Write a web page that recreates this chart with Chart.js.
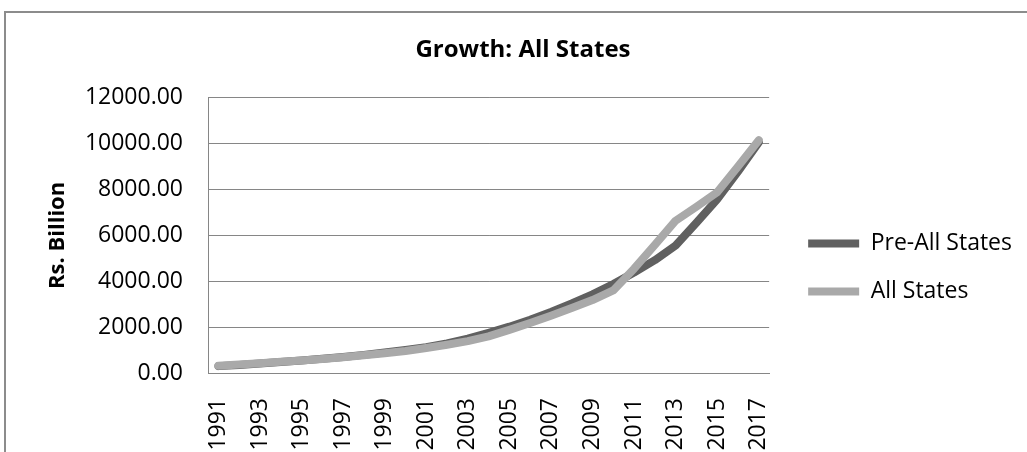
<!DOCTYPE html>
<html>
<head>
<meta charset="utf-8">
<script src="https://cdn.jsdelivr.net/npm/chart.js@4"></script>
<style>
	html, body { margin: 0; padding: 0; background: #fff; overflow: hidden; }
	#frame { position: absolute; left: 4px; top: 11px; width: 1100px; height: 500px; border: 2px solid #8c8c8c; }
	#graph { position: absolute; left: 0; top: 0; }
</style>
</head>
<body>
<div id="frame"></div>
<canvas id="graph" width="1027" height="452"></canvas>
<script>
	const years = [
		'1991', '1992', '1993', '1994', '1995', '1996', '1997', '1998', '1999',
		'2000', '2001', '2002', '2003', '2004', '2005', '2006', '2007', '2008',
		'2009', '2010', '2011', '2012', '2013', '2014', '2015', '2016', '2017'
	];

	const preAllStates = [
		300, 350, 410, 475, 545, 620, 700, 790, 890,
		1000, 1130, 1290, 1500, 1750, 2020, 2320, 2660, 3030,
		3430, 3880, 4380, 4920, 5560, 6550, 7570, 8780, 10050
	];

	const allStates = [
		320, 370, 430, 490, 550, 615, 690, 770, 860,
		960, 1090, 1230, 1390, 1600, 1880, 2180, 2500, 2830,
		3180, 3600, 4550, 5590, 6640, 7250, 7880, 9000, 10150
	];

	const yTicks = [0, 2000, 4000, 6000, 8000, 10000, 12000];

	const gridColor = '#868686';

	// nudges the legend block to where the original sits
	const legendNudge = {
		id: 'legendNudge',
		afterLayout(chart) {
			const legend = chart.legend;
			legend.left += 14;
			legend.right += 14;
			legend.top += 36;
			legend.bottom += 36;
		}
	};

	Chart.defaults.font.family = "'Open Sans', sans-serif";
	Chart.defaults.color = '#000';

	function lineSet(label, data, color) {
		return {
			label: label,
			data: data,
			borderColor: color,
			backgroundColor: color,
			borderWidth: 8,
			borderCapStyle: 'round',
			borderJoinStyle: 'round',
			pointRadius: 0,
			pointHoverRadius: 0,
			tension: 0,
			fill: false
		};
	}

	new Chart(document.querySelector('#graph'), {
		type: 'line',
		data: {
			labels: years,
			// All States first so it is painted on top
			datasets: [
				lineSet('All States', allStates, '#a9a9a9'),
				lineSet('Pre-All States', preAllStates, '#606060')
			]
		},
		plugins: [legendNudge],
		options: {
			responsive: false,
			animation: false,
			layout: {
				padding: { left: 38, right: 19, top: 11, bottom: 0 }
			},
			plugins: {
				tooltip: { enabled: false },
				title: {
					display: true,
					text: 'Growth: All States',
					font: { size: 24, weight: 'bold' },
					color: '#000',
					padding: { top: 25, bottom: 33 }
				},
				legend: {
					position: 'right',
					reverse: true,
					labels: {
						usePointStyle: true,
						pointStyle: 'line',
						pointStyleWidth: 51,
						padding: 25,
						font: { size: 23 },
						color: '#000'
					}
				}
			},
			scales: {
				x: {
					offset: true,
					afterFit: (scale) => { scale.height = 79; },
					grid: { display: false, drawTicks: false },
					border: { display: true, color: gridColor, width: 1 },
					ticks: {
						autoSkip: false,
						maxRotation: 90,
						minRotation: 90,
						padding: 25,
						font: { size: 23 },
						callback: (value, index) => index % 2 === 0 ? years[index] : ''
					}
				},
				y: {
					min: yTicks[0],
					max: yTicks[yTicks.length - 1],
					afterFit: (scale) => { scale.width = 170; },
					afterBuildTicks: (scale) => { scale.ticks = yTicks.map(v => ({ value: v })); },
					grid: { color: gridColor, lineWidth: 1, drawTicks: false },
					border: { display: true, color: gridColor, width: 1 },
					ticks: {
						padding: 25,
						font: { size: 23 },
						callback: (value) => Number(value).toFixed(2)
					},
					title: {
						display: true,
						text: 'Rs. Billion',
						font: { size: 22, weight: 'bold' },
						padding: { top: 7, bottom: 0 }
					}
				}
			}
		}
	});
</script>
</body>
</html>
